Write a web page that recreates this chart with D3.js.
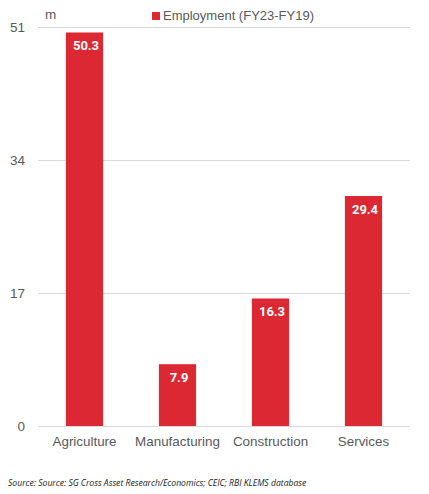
<!DOCTYPE html>
<html>
<head>
<meta charset="utf-8">
<script src="https://cdn.jsdelivr.net/npm/d3@7"></script>
<style>
  body { margin: 0; background: #fff; }
  text { font-family: "Liberation Sans", Arial, sans-serif; }
</style>
</head>
<body>
<div id="chart"></div>
<script>
var svgW = 429;
var svgH = 494;

var margin = { left: 38, right: 19, top: 27, bottom: 68 };

var chartW = svgW - margin.left - margin.right;
var chartH = svgH - margin.top - margin.bottom;

// data
var categories = ["Agriculture", "Manufacturing", "Construction", "Services"];
var employment = [50.3, 7.9, 16.3, 29.4];
var yTicks = [0, 17, 34, 51];
var seriesName = "Employment (FY23-FY19)";
var unitLabel = "m";
var sourceText = "Source: Source: SG Cross Asset Research/Economics; CEIC; RBI KLEMS database";

var barColor = "#dc2832";
var textColor = "#595959";
var labelFont = "'Liberation Sans', Arial, sans-serif";

var svg = d3.select("#chart")
    .append("svg")
    .attr("width", svgW)
    .attr("height", svgH);

var g = svg.append("g")
    .attr("transform", `translate(${margin.left}, ${margin.top})`);

var xScale = d3.scaleBand()
    .domain(categories)
    .range([0, chartW])
    .paddingInner(0.6)
    .paddingOuter(0.3);

var yScale = d3.scaleLinear()
    .domain([0, 51])
    .range([chartH, 0]);

// gridlines
g.selectAll(".grid")
    .data(yTicks)
    .enter()
    .append("line")
    .attr("class", "grid")
    .attr("x1", 0)
    .attr("x2", chartW)
    .attr("y1", d => yScale(d) + 0.5)
    .attr("y2", d => yScale(d) + 0.5)
    .attr("stroke", "#d9d9d9")
    .attr("stroke-width", 1);

// y axis labels
var leftAxis = d3.axisLeft(yScale).tickValues(yTicks).tickSize(0).tickPadding(13);
var yAxis = g.append("g").attr("id", "y-axis").call(leftAxis);
yAxis.select(".domain").remove();
yAxis.selectAll("text")
    .attr("fill", textColor)
    .style("font-size", "13.5px")
    .style("font-family", labelFont);

// x axis labels
var bottomAxis = d3.axisBottom(xScale).tickSize(0).tickPadding(10);
var xAxis = g.append("g")
    .attr("id", "x-axis")
    .attr("transform", `translate(0, ${chartH})`)
    .call(bottomAxis);
xAxis.select(".domain").remove();
xAxis.selectAll("text")
    .attr("fill", textColor)
    .style("font-size", "13.4px")
    .style("font-family", labelFont);

// bars
g.selectAll(".bar")
    .data(employment)
    .enter()
    .append("rect")
    .attr("class", "bar")
    .attr("x", (d, i) => xScale(categories[i]))
    .attr("y", d => yScale(d))
    .attr("width", xScale.bandwidth())
    .attr("height", d => chartH - yScale(d))
    .attr("fill", barColor);

// value labels
g.selectAll(".val")
    .data(employment)
    .enter()
    .append("text")
    .attr("class", "val")
    .attr("x", (d, i) => xScale(categories[i]) + xScale.bandwidth() / 2 + 1.5)
    .attr("y", d => yScale(d) + 18)
    .attr("text-anchor", "middle")
    .attr("fill", "#fff")
    .style("font-family", "Roboto, sans-serif")
    .style("font-weight", "bold")
    .style("font-size", "13px")
    .text(d => d.toFixed(1));

// unit label
svg.append("text")
    .attr("x", 45)
    .attr("y", 19)
    .attr("fill", textColor)
    .style("font-size", "13.5px")
    .text(unitLabel);

// legend
svg.append("rect")
    .attr("x", 152)
    .attr("y", 12)
    .attr("width", 8)
    .attr("height", 8)
    .attr("fill", barColor);

svg.append("text")
    .attr("x", 163)
    .attr("y", 20)
    .attr("fill", textColor)
    .style("font-size", "13px")
    .text(seriesName);

// source
svg.append("text")
    .attr("x", 8)
    .attr("y", 486)
    .attr("fill", "#222")
    .style("font-family", "'Open Sans', sans-serif")
    .style("font-style", "italic")
    .style("font-size", "8.65px")
    .text(sourceText);
</script>
</body>
</html>
